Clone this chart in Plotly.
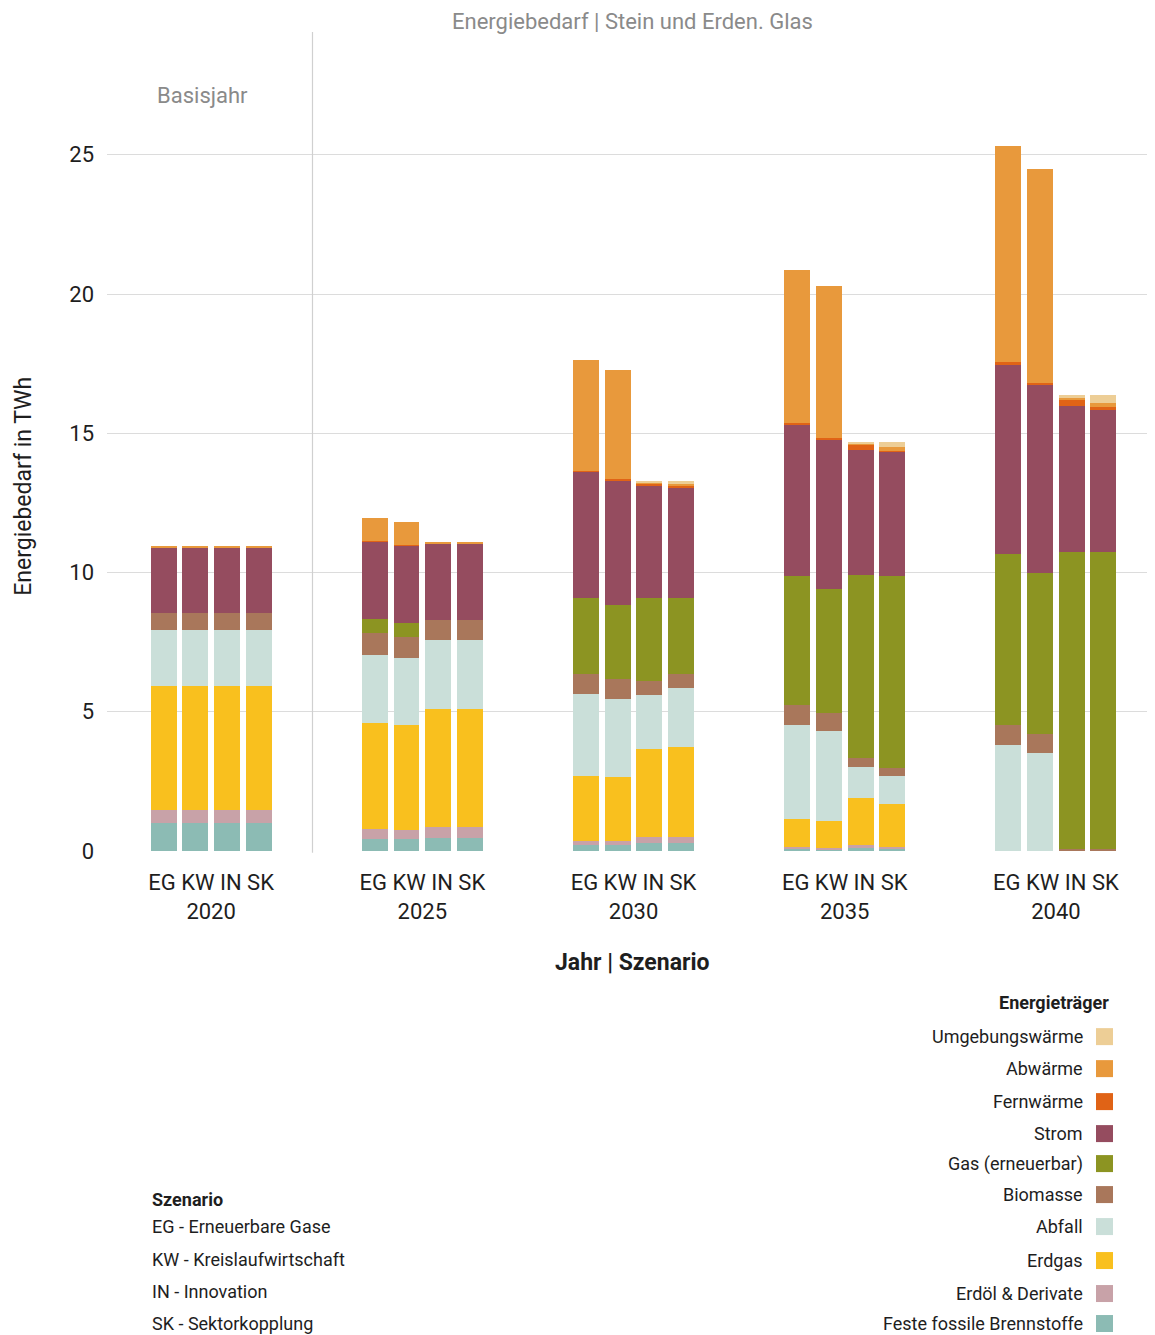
import plotly.graph_objects as go

# ---------------- data ----------------
years = ["2020", "2025", "2030", "2035", "2040"]
scenarios = ["EG", "KW", "IN", "SK"]
tick_labels = ["EG KW IN SK<br>2020", "EG KW IN SK<br>2025", "EG KW IN SK<br>2030",
               "EG KW IN SK<br>2035", "EG KW IN SK<br>2040"]

# values per bar: order 2020 EG,KW,IN,SK, 2025 EG,KW,IN,SK, ...
feste = [1.00, 1.00, 1.00, 1.00, 0.44, 0.44, 0.48, 0.48, 0.20, 0.20, 0.27, 0.30,
         0.10, 0.05, 0.11, 0.08, 0.00, 0.00, 0.00, 0.00]
erdoel = [0.46, 0.46, 0.46, 0.46, 0.36, 0.32, 0.39, 0.39, 0.17, 0.17, 0.25, 0.19,
          0.03, 0.06, 0.11, 0.08, 0.00, 0.00, 0.00, 0.00]
erdgas = [4.45, 4.45, 4.45, 4.45, 3.81, 3.78, 4.24, 4.24, 2.34, 2.27, 3.13, 3.26,
          1.03, 0.98, 1.69, 1.54, 0.00, 0.00, 0.00, 0.00]
abfall = [2.01, 2.01, 2.01, 2.01, 2.44, 2.40, 2.47, 2.47, 2.94, 2.83, 1.94, 2.09,
          3.38, 3.22, 1.11, 1.01, 3.80, 3.51, 0.00, 0.00]
biomasse = [0.64, 0.64, 0.64, 0.64, 0.76, 0.73, 0.72, 0.72, 0.72, 0.69, 0.50, 0.50,
            0.69, 0.66, 0.33, 0.28, 0.74, 0.70, 0.08, 0.08]
gas_ee = [0.00, 0.00, 0.00, 0.00, 0.53, 0.52, 0.00, 0.00, 2.73, 2.66, 3.01, 2.73,
          4.66, 4.44, 6.57, 6.89, 6.12, 5.77, 10.66, 10.66]
strom = [2.35, 2.35, 2.35, 2.35, 2.76, 2.77, 2.73, 2.73, 4.51, 4.47, 3.99, 3.98,
         5.44, 5.38, 4.48, 4.46, 6.82, 6.77, 5.24, 5.13]
fernwaerme = [0.00, 0.00, 0.00, 0.00, 0.04, 0.04, 0.00, 0.00, 0.04, 0.05, 0.10, 0.04,
              0.05, 0.05, 0.20, 0.04, 0.07, 0.07, 0.22, 0.07]
abwaerme = [0.05, 0.05, 0.05, 0.05, 0.82, 0.82, 0.04, 0.04, 3.98, 3.93, 0.04, 0.09,
            5.50, 5.44, 0.03, 0.13, 7.76, 7.68, 0.07, 0.15]
umgebung = [0.00, 0.00, 0.00, 0.00, 0.00, 0.00, 0.00, 0.00, 0.00, 0.00, 0.03, 0.10,
            0.00, 0.00, 0.05, 0.17, 0.00, 0.00, 0.11, 0.30]

series_names = ["Feste fossile Brennstoffe", "Erdöl & Derivate", "Erdgas", "Abfall",
                "Biomasse", "Gas (erneuerbar)", "Strom", "Fernwärme", "Abwärme",
                "Umgebungswärme"]
series_values = [feste, erdoel, erdgas, abfall, biomasse, gas_ee, strom,
                 fernwaerme, abwaerme, umgebung]
series_colors = ["#8CBBB4", "#C8A2A8", "#F9C01E", "#CADFD9", "#A9775B", "#8C9422",
                 "#954C5F", "#E06316", "#E8993C", "#EDCE96"]

scenario_legend = ["EG - Erneuerbare Gase", "KW - Kreislaufwirtschaft",
                   "IN - Innovation", "SK - Sektorkopplung"]

# ---------------- layout helpers ----------------
OFF = 8  # page body margin
W, H = 1155 - OFF, 1335 - OFF
ML, MR, MT = 107 - OFF, 0, 32 - OFF
PLOT_BOTTOM = 851.3 - OFF
MB = H - PLOT_BOTTOM
PW = W - ML - MR
PH = PLOT_BOTTOM - MT


def px_x(p):
    return (p - OFF - ML) / PW


def px_y(p):
    return (PLOT_BOTTOM - (p - OFF)) / PH


FONT = "Roboto"
DARK = "#1e1e1e"
GREY = "#8a8a8a"

# bar x positions (group index + offset per scenario)
offsets = [-0.225, -0.075, 0.075, 0.225]
bar_x = [g + offsets[s] for g in range(len(years)) for s in range(len(scenarios))]

fig = go.Figure()
for name, vals, col in zip(series_names, series_values, series_colors):
    fig.add_trace(go.Bar(
        x=bar_x, y=vals, name=name, width=0.123,
        marker=dict(color=col, line=dict(width=0)),
        showlegend=False,
    ))

fig.update_layout(
    width=W, height=H,
    barmode="stack",
    margin=dict(l=ML, r=MR, t=MT, b=MB, pad=0),
    plot_bgcolor="white", paper_bgcolor="white",
    font=dict(family=FONT, color=DARK),
    xaxis=dict(
        range=[-0.493, 4.469], tickvals=list(range(len(years))), ticktext=tick_labels,
        showgrid=False, zeroline=False, showline=False, ticks="",
        tickfont=dict(size=22, color=DARK), ticklabelstandoff=16,
    ),
    yaxis=dict(
        range=[0, PH / 27.86], tickvals=[0, 5, 10, 15, 20, 25],
        showgrid=True, gridcolor="#dcdcdc", gridwidth=1.3, zeroline=False,
        showline=False, ticks="", tickfont=dict(size=22, color=DARK),
        ticklabelstandoff=12,
    ),
)

# separator line between base year and projections
fig.add_shape(type="line", xref="x", yref="paper", x0=0.48, x1=0.48, y0=-0.002, y1=1,
              line=dict(color="#d0d0d0", width=1.2))

ann = []
ann.append(dict(text="Energiebedarf | Stein und Erden. Glas", x=px_x(632), y=px_y(21),
                xref="paper", yref="paper", showarrow=False, xanchor="center",
                yanchor="middle", font=dict(size=22, color=GREY)))
ann.append(dict(text="Basisjahr", x=px_x(202), y=px_y(96), xref="paper", yref="paper",
                showarrow=False, xanchor="center", yanchor="middle",
                font=dict(size=22, color=GREY)))
ann.append(dict(text="Energiebedarf in TWh", x=px_x(24), y=px_y(487), xref="paper",
                yref="paper", showarrow=False, textangle=-90, xanchor="center",
                yanchor="middle", font=dict(size=23, color=DARK)))
ann.append(dict(text="<b>Jahr | Szenario</b>", x=px_x(632), y=px_y(963), xref="paper",
                yref="paper", showarrow=False, xanchor="center", yanchor="middle",
                font=dict(size=23, color=DARK)))

# Energieträger legend (custom: text left of the swatch)
ann.append(dict(text="<b>Energieträger</b>", x=px_x(1111), y=px_y(1003), xref="paper",
                yref="paper", showarrow=False, xanchor="right", yanchor="middle",
                font=dict(size=18, color=DARK)))
legend_y = [1037, 1069, 1102, 1134, 1164, 1195, 1227, 1261, 1294, 1324]
legend_order = list(range(len(series_names)))[::-1]
for ly, idx in zip(legend_y, legend_order):
    ann.append(dict(text=series_names[idx], x=px_x(1085), y=px_y(ly), xref="paper",
                    yref="paper", showarrow=False, xanchor="right", yanchor="middle",
                    font=dict(size=18, color=DARK)))
    fig.add_shape(type="rect", xref="paper", yref="paper",
                  x0=px_x(1096), x1=px_x(1113), y0=px_y(ly + 8.5), y1=px_y(ly - 8.5),
                  fillcolor=series_colors[idx], line=dict(width=0))

# Szenario legend
ann.append(dict(text="<b>Szenario</b>", x=px_x(150), y=px_y(1200), xref="paper",
                yref="paper", showarrow=False, xanchor="left", yanchor="middle",
                font=dict(size=18, color=DARK)))
for ly, txt in zip([1227, 1260, 1292, 1324], scenario_legend):
    ann.append(dict(text=txt, x=px_x(150), y=px_y(ly), xref="paper", yref="paper",
                    showarrow=False, xanchor="left", yanchor="middle",
                    font=dict(size=18, color=DARK)))

fig.update_layout(annotations=ann)
fig.write_html("out.html")
